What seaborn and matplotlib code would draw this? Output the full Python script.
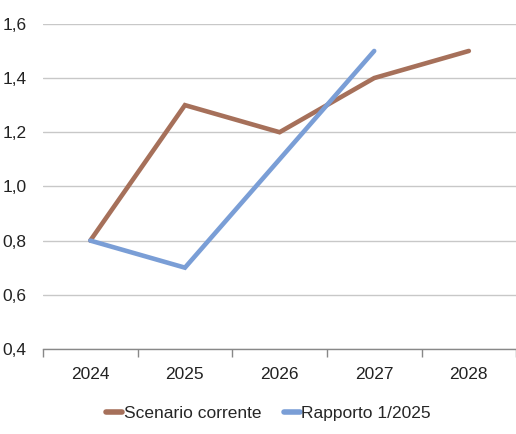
import matplotlib
matplotlib.use("Agg")
import matplotlib.pyplot as plt
from matplotlib.ticker import FixedLocator, FuncFormatter
import seaborn as sns
import pandas as pd
import numpy as np

years = ["2024", "2025", "2026", "2027", "2028"]
scenario_corrente = [0.8, 1.3, 1.2, 1.4, 1.5]
rapporto_2025 = [0.8, 0.7, 1.1, 1.5, np.nan]
series_names = ["Scenario corrente", "Rapporto 1/2025"]
colors = ["#A6705A", "#7A9ED6"]

sns.set_theme(style="white")
plt.rcParams["font.family"] = ["Liberation Sans", "DejaVu Sans"]

df = pd.DataFrame({
    "year": years * 2,
    "value": scenario_corrente + rapporto_2025,
    "series": [series_names[0]] * len(years) + [series_names[1]] * len(years),
})
df["pos"] = df["year"].map({y: i for i, y in enumerate(years)})

fig = plt.figure(figsize=(5.16, 4.34), dpi=100)
ax = fig.add_axes([0.0833, 0.196, 0.917, 0.749])

sns.lineplot(data=df, x="pos", y="value", hue="series", palette=colors,
             linewidth=3.3, ax=ax, legend=True)
for line in ax.lines:
    line.set_solid_capstyle("round")
    line.set_solid_joinstyle("miter")

ax.set_xlim(-0.5, len(years) - 0.5)
ax.set_ylim(0.4, 1.6)
ax.set_yticks(np.arange(0.4, 1.61, 0.2))
ax.yaxis.set_major_formatter(FuncFormatter(lambda v, p: f"{v:.1f}".replace(".", ",")))
ax.yaxis.grid(True, color="#C8C8C8", linewidth=1.0)
ax.set_axisbelow(True)

# category labels centred, tick marks on the category boundaries
ax.set_xticks(range(len(years)))
ax.set_xticklabels(years)
ax.xaxis.set_minor_locator(FixedLocator(np.arange(-0.5, len(years), 1.0)))
ax.tick_params(axis="x", which="major", bottom=False, length=0, pad=13,
               labelsize=12.5, colors="#222222")
ax.tick_params(axis="x", which="minor", bottom=True, length=6, width=1,
               color="#888888", direction="out")
ax.tick_params(axis="y", length=0, pad=12, labelsize=12.5, colors="#222222")

for s in ["top", "right", "left"]:
    ax.spines[s].set_visible(False)
ax.spines["bottom"].set_color("#888888")
ax.spines["bottom"].set_linewidth(1.0)
ax.set_xlabel("")
ax.set_ylabel("")

handles, labels = ax.get_legend_handles_labels()
ax.legend(handles, labels, loc="lower center", bbox_to_anchor=(0.477, -0.27),
          ncol=2, frameon=False, fontsize=12.5, handlelength=0.9,
          handletextpad=0.1, columnspacing=1.3)
for h in ax.get_legend().get_lines():
    h.set_linewidth(4)

fig.savefig("out.png", dpi=100)
